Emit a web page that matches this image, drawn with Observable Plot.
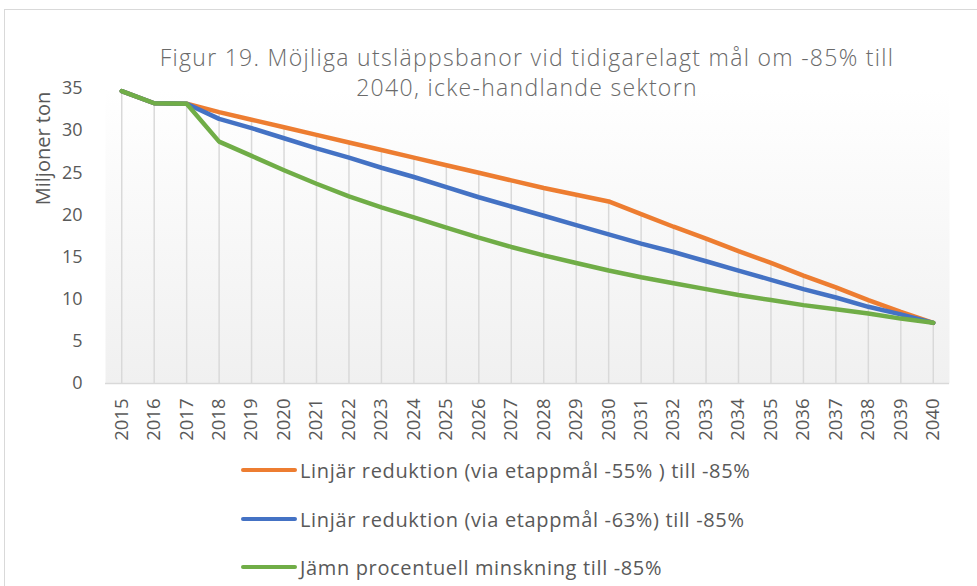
<!DOCTYPE html>
<html>
<head>
<meta charset="utf-8">
<script src="https://cdn.jsdelivr.net/npm/d3@7"></script>
<script src="https://cdn.jsdelivr.net/npm/@observablehq/plot@0.6"></script>
<style>
  body { margin: 0; background: #fff; font-family: "Open Sans", sans-serif; color: #595959; }
  #wrap { position: relative; width: 977px; height: 586px; overflow: hidden; }
  #frame { position: absolute; left: 4px; top: 9px; width: 1000px; height: 620px; border: 1px solid #d9d9d9; box-sizing: border-box; }
  #title { position: absolute; left: 60px; width: 934px; top: 42px; text-align: center; font-size: 23px; letter-spacing: 1.3px; line-height: 30px; color: #6a6a6a; font-weight: 300; }
  #chart { position: absolute; left: 0; top: 0; }
  .leg { position: absolute; left: 241px; height: 24px; font-size: 20px; letter-spacing: 0.65px; display: flex; align-items: center; color: #595959; white-space: nowrap; }
  .sw { display: inline-block; width: 56px; height: 4px; border-radius: 2px; margin-right: 3px; }
</style>
</head>
<body>
<div id="wrap">
  <div id="frame"></div>
  <div id="chart"></div>
  <div id="title"></div>
  <div id="legend"></div>
</div>
<script>
const years = ["2015","2016","2017","2018","2019","2020","2021","2022","2023","2024","2025","2026","2027","2028","2029","2030","2031","2032","2033","2034","2035","2036","2037","2038","2039","2040"];
const seriesNames = [
  "Linjär reduktion (via etappmål -55% ) till -85%",
  "Linjär reduktion (via etappmål -63%) till -85%",
  "Jämn procentuell minskning till -85%"
];
const seriesColors = ["#ED7D31", "#4472C4", "#70AD47"];
const orange = [34.7, 33.25, 33.2, 32.2, 31.3, 30.4, 29.5, 28.6, 27.7, 26.8, 25.9, 25.0, 24.1, 23.2, 22.4, 21.6, 20.1, 18.6, 17.2, 15.7, 14.3, 12.8, 11.4, 9.9, 8.5, 7.2];
const blue   = [34.7, 33.25, 33.2, 31.4, 30.3, 29.1, 27.9, 26.8, 25.6, 24.5, 23.3, 22.1, 21.0, 19.9, 18.8, 17.7, 16.6, 15.6, 14.5, 13.4, 12.3, 11.2, 10.2, 9.1, 8.2, 7.2];
const green  = [34.7, 33.25, 33.2, 28.7, 27.0, 25.3, 23.7, 22.2, 20.9, 19.7, 18.5, 17.3, 16.2, 15.2, 14.3, 13.4, 12.6, 11.9, 11.2, 10.5, 9.9, 9.3, 8.8, 8.3, 7.7, 7.2];
const yTicks = [0, 5, 10, 15, 20, 25, 30, 35];
const titleLines = ["Figur 19. Möjliga utsläppsbanor vid tidigarelagt mål om -85% till", "2040, icke-handlande sektorn"];
const yLabel = "Miljoner ton";

const seriesValues = [orange, blue, green];
const data = [];
seriesValues.forEach((vals, s) => {
  years.forEach((yr, i) => data.push({ year: yr, value: vals[i], series: seriesNames[s] }));
});
const tops = years.map((yr, i) => ({ year: yr, top: Math.max(orange[i], blue[i], green[i]) }));

const defsMark = () => {
  const g = d3.create("svg:g");
  const grad = g.append("defs").append("linearGradient")
    .attr("id", "bgGrad").attr("x1", 0).attr("y1", 0).attr("x2", 0).attr("y2", 1);
  grad.append("stop").attr("offset", "0%").attr("stop-color", "#ffffff");
  grad.append("stop").attr("offset", "100%").attr("stop-color", "#f0f0f0");
  return g.node();
};

const chart = Plot.plot({
  width: 977,
  height: 455,
  marginTop: 88,
  marginBottom: 72,
  marginLeft: 105,
  marginRight: 28,
  style: { fontFamily: "'Open Sans', sans-serif", color: "#595959", background: "transparent", overflow: "visible" },
  x: { type: "point", domain: years, padding: 0.5, round: false, label: null },
  y: { domain: [0, 35], label: null },
  color: { domain: seriesNames, range: seriesColors },
  marks: [
    defsMark,
    Plot.frame({ fill: "url(#bgGrad)", stroke: "none" }),
    Plot.ruleX(tops, { x: "year", y1: 0, y2: "top", stroke: "#d9d9d9", strokeWidth: 1.5 }),
    Plot.ruleY([0], { stroke: "#d9d9d9", strokeWidth: 1.5 }),
    Plot.line(data, { x: "year", y: "value", z: "series", stroke: "series", strokeWidth: 4.5, strokeLinecap: "round", strokeLinejoin: "round" }),
    Plot.axisY({ ticks: yTicks, tickSize: 0, tickPadding: 23, fontSize: 18, label: null }),
    Plot.axisX({ tickSize: 0, tickRotate: -90, tickPadding: 15, fontSize: 18.5, label: null }),
    Plot.text([yLabel], { frameAnchor: "top-left", rotate: -90, dx: -70, dy: 60, fontSize: 20, fill: "#595959", textAnchor: "middle" })
  ]
});
document.getElementById("chart").appendChild(chart);

const t = document.getElementById("title");
titleLines.forEach(l => { const d = document.createElement("div"); d.textContent = l; t.appendChild(d); });

const legTops = [458, 507, 555];
const leg = document.getElementById("legend");
seriesNames.forEach((n, i) => {
  const row = document.createElement("div");
  row.className = "leg";
  row.style.top = legTops[i] + "px";
  const sw = document.createElement("span");
  sw.className = "sw";
  sw.style.background = seriesColors[i];
  row.appendChild(sw);
  const tx = document.createElement("span");
  tx.textContent = n;
  row.appendChild(tx);
  leg.appendChild(row);
});
</script>
</body>
</html>
